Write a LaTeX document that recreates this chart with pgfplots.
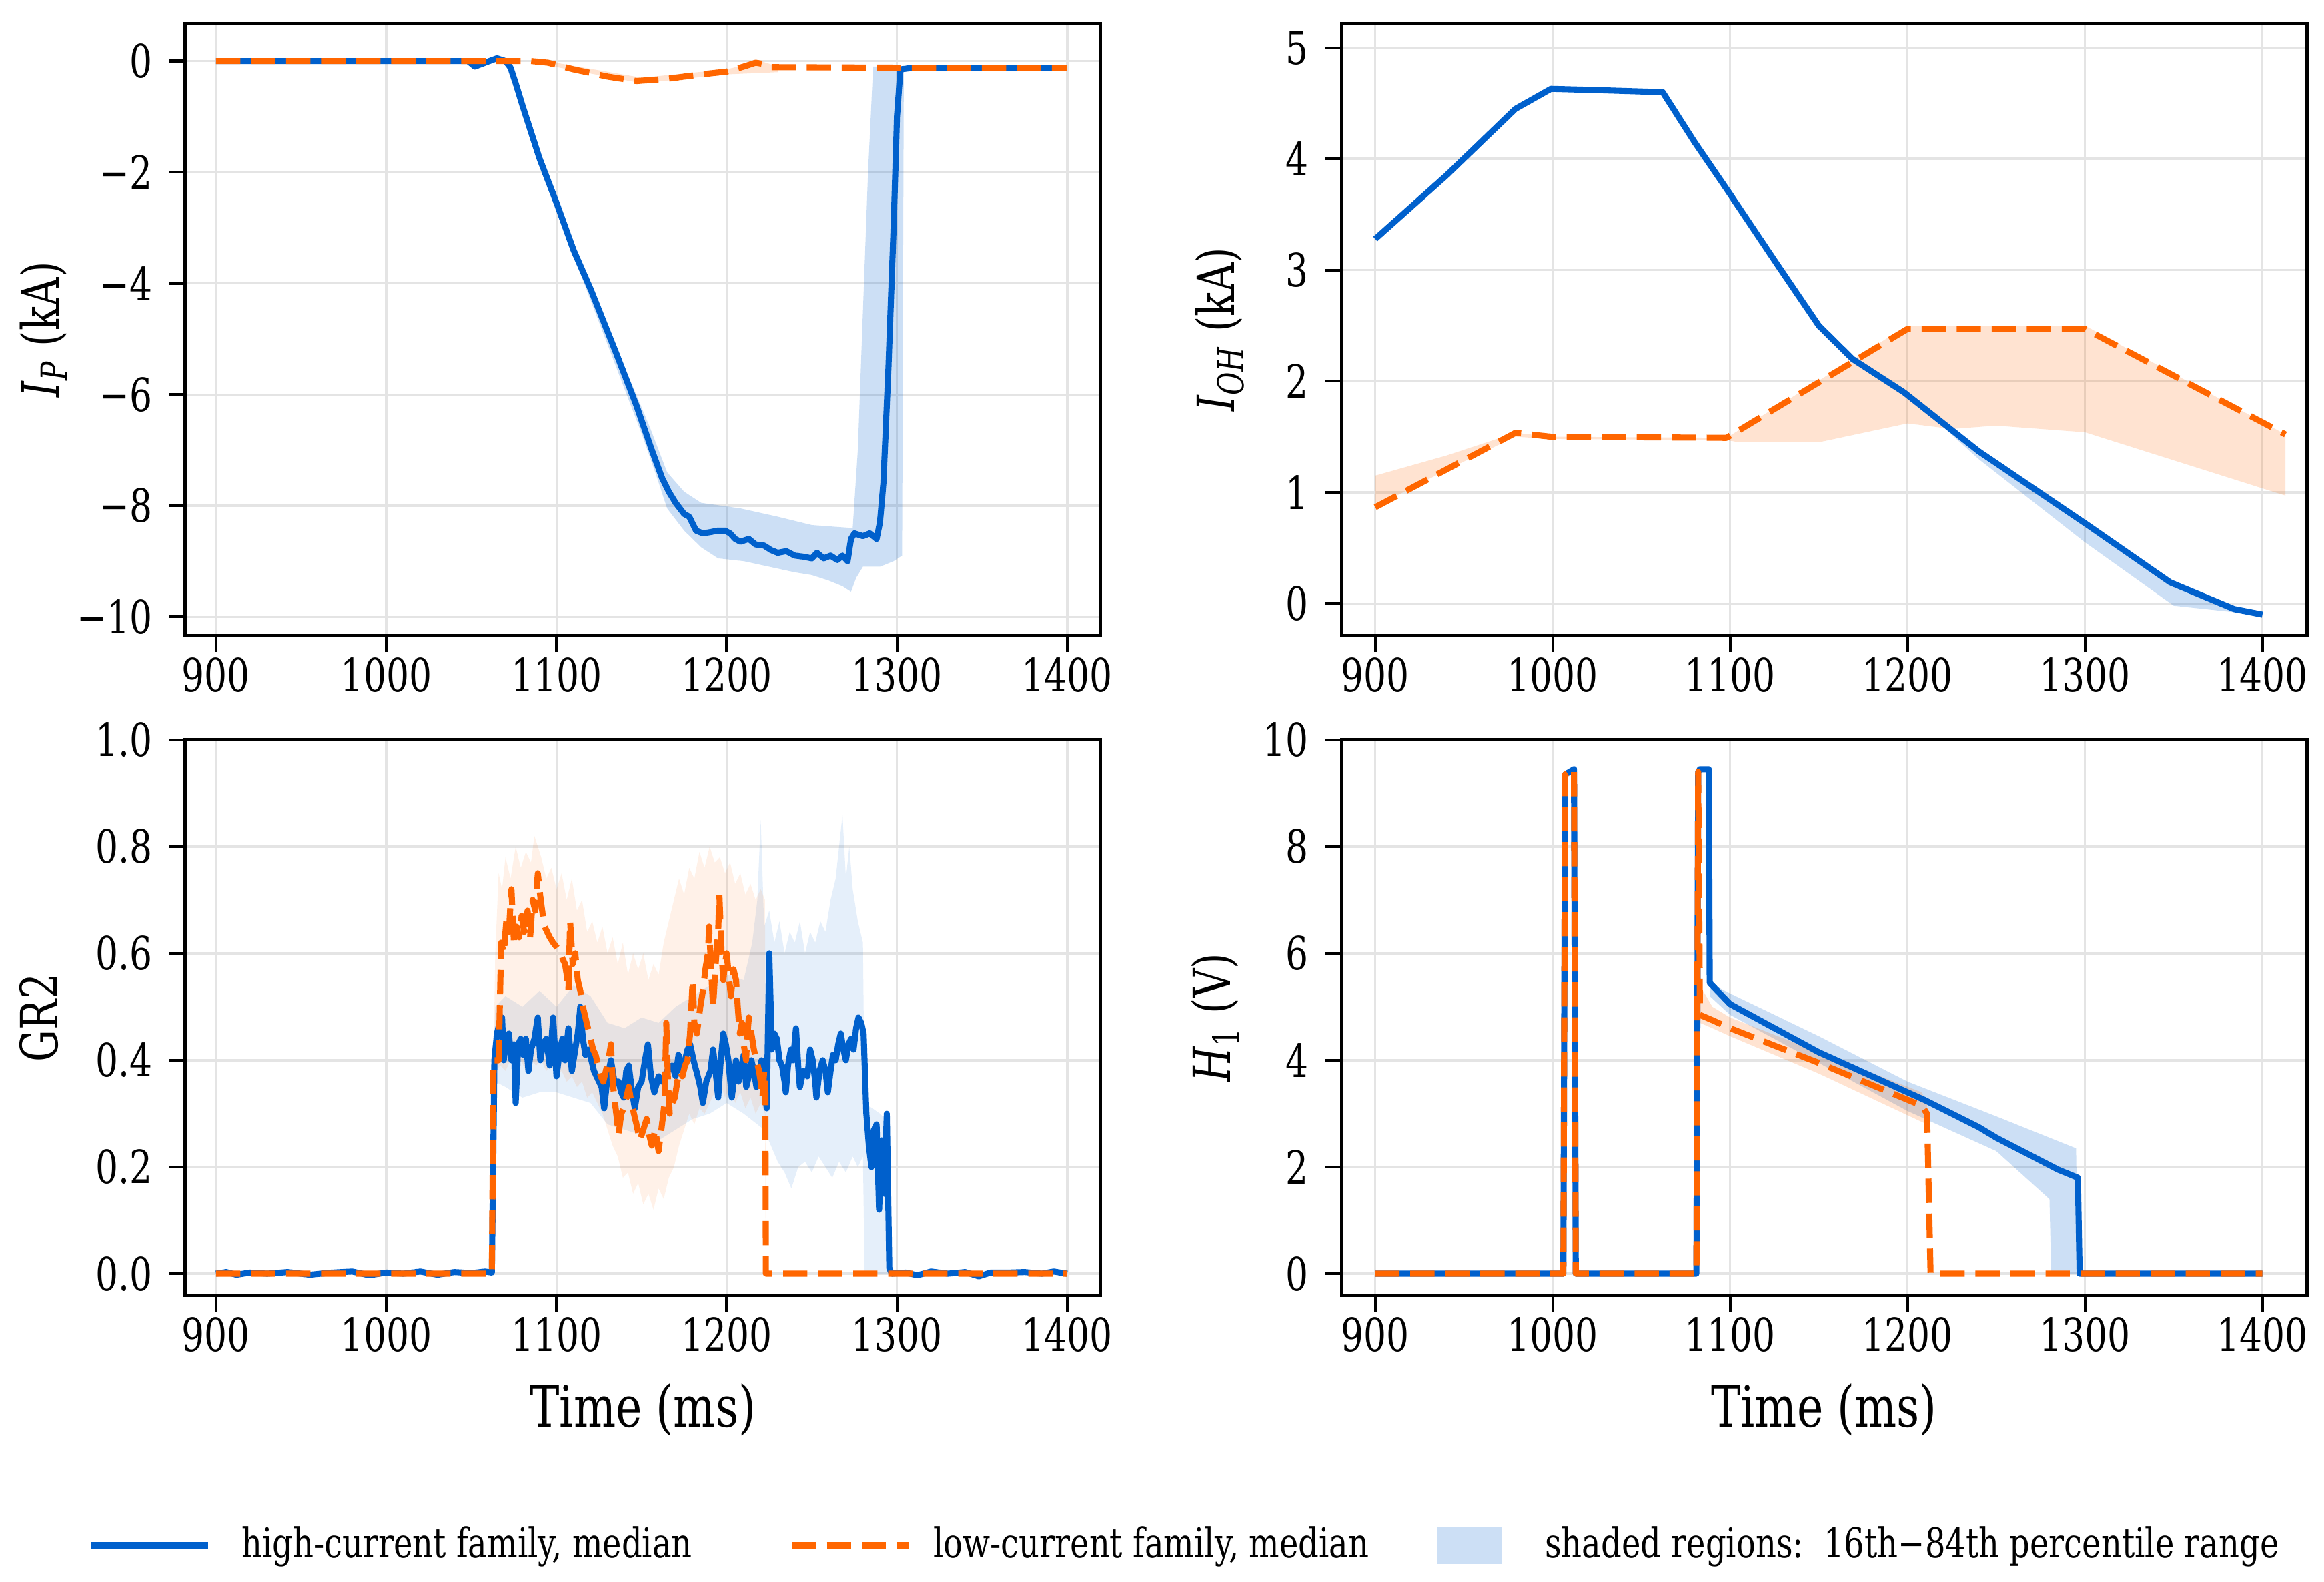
\documentclass[border=0pt]{standalone}
\usepackage{pgfplots}
\pgfplotsset{compat=1.18}
\usepackage{fontspec}
\setmainfont{DejaVu Serif}[FakeStretch=0.78]
\definecolor{blueC}{RGB}{0,96,204}
\definecolor{orangeC}{RGB}{255,102,0}
\definecolor{blueF}{RGB}{204,223,245}
\definecolor{gridC}{RGB}{228,228,228}
\pgfplotsset{
 myaxis/.style={
  scale only axis,
  axis line style={black, line width=0.7pt},
  grid=major, major grid style={gridC, line width=0.5pt},
  tick align=outside, major tick length=3.5pt, tick style={black, line width=0.6pt},
  xtick pos=bottom, ytick pos=left,
  xtick={900,1000,...,1400},
  /pgf/number format/assume math mode=true,
  /pgf/number format/1000 sep={},
  tick label style={font=\fontsize{9.8}{10}\selectfont},
  xticklabel style={yshift=2.3pt},
  ylabel style={font=\fontsize{11}{12}\selectfont},
  xlabel style={font=\fontsize{12.2}{13}\selectfont},
  anchor=south west,
 },
 bluel/.style={blueC, line width=1.3pt, line join=round},
 orangel/.style={orangeC, line width=1.3pt, line join=round, dash pattern=on 5.2pt off 2.3pt},
 bband/.style={fill=blueC, fill opacity=0.2, draw=none},
 oband/.style={fill=orangeC, fill opacity=0.18, draw=none},
 lineleg/.style={legend image code/.code={\draw[##1] (0pt,0pt) -- (25pt,0pt);}},
 patchleg/.style={legend image code/.code={\fill[##1] (0pt,-3.9pt) rectangle (13.7pt,3.9pt);}},
}
\begin{document}
\begin{tikzpicture}
\useasboundingbox (0,0) rectangle (497.7pt,-338.7pt);
% ---------------- Top left: I_P
\begin{axis}[myaxis, at={(39.7pt,-136.1pt)}, width=196pt, height=131.1pt,
 xmin=882, xmax=1419.6, ymin=-10.34, ymax=0.68,
 ytick={-10,-8,-6,-4,-2,0}, yticklabels={−10,−8,−6,−4,−2,0},
 ylabel={\textit{I}\textsubscript{\textit{P}} (kA)},
 ylabel style={at={(axis description cs:-0.155,0.5)}, anchor=center}]
\addplot[bband] coordinates {(1070,0.05) (1080,-0.8) (1100,-2.5) (1120,-4.0) (1140,-5.5) (1155,-6.6) (1165,-7.4) (1175,-7.75) (1185,-7.95) (1208,-8.05) (1230,-8.2) (1250,-8.35) (1272,-8.4) (1274,-8.4) (1277,-7) (1280,-4.5) (1283,-2) (1286,-0.1) (1304,-0.1)
 (1304,-0.15) (1303,-8.9) (1298,-9.0) (1290,-9.1) (1280,-9.1) (1276,-9.3) (1273,-9.55) (1268,-9.45) (1260,-9.35) (1250,-9.25) (1240,-9.2) (1225,-9.1) (1210,-9.0) (1195,-8.95) (1185,-8.75) (1175,-8.45) (1165,-8.05) (1158,-7.4) (1150,-6.7) (1140,-5.9) (1120,-4.3) (1100,-2.7) (1080,-0.9) (1070,-0.05)};
\addplot[oband] coordinates {(1090,0.02) (1150,-0.3) (1200,-0.15) (1220,0.0) (1230,-0.1) (1230,-0.2) (1200,-0.24) (1150,-0.4) (1090,-0.05)};
\addplot[bluel] coordinates {(900,0) (1000,0) (1048,0) (1052,-0.1) (1058,-0.03) (1065,0.05) (1070,0.0) (1073,-0.12) (1076,-0.4) (1080,-0.8) (1090,-1.75) (1100,-2.55) (1110,-3.4) (1120,-4.1) (1135,-5.25) (1147,-6.2) (1156,-7.0) (1162,-7.5) (1166,-7.75) (1170,-7.95) (1175,-8.15) (1178,-8.2) (1182,-8.45) (1186,-8.5) (1190,-8.48) (1195,-8.45) (1199,-8.45) (1202,-8.5) (1205,-8.6) (1208,-8.65) (1213,-8.6) (1217,-8.7) (1222,-8.72) (1226,-8.8) (1230,-8.85) (1235,-8.82) (1240,-8.9) (1245,-8.92) (1250,-8.95) (1253,-8.85) (1257,-8.95) (1261,-8.9) (1265,-8.98) (1268,-8.9) (1271,-9.0) (1273,-8.6) (1275,-8.5) (1280,-8.55) (1284,-8.5) (1288,-8.6) (1290,-8.3) (1292,-7.6) (1295,-5.5) (1298,-3.0) (1300,-1.0) (1302,-0.15) (1310,-0.12) (1400,-0.12)};
\addplot[orangel] coordinates {(900,0) (1000,0) (1085,0) (1095,-0.03) (1110,-0.15) (1130,-0.28) (1147,-0.36) (1165,-0.32) (1185,-0.24) (1200,-0.19) (1210,-0.1) (1217,-0.03) (1221,-0.05) (1226,-0.11) (1300,-0.12) (1400,-0.12)};
\end{axis}
% ---------------- Top right: I_OH
\begin{axis}[myaxis, at={(287.3pt,-136.1pt)}, width=206.7pt, height=131.1pt,
 xmin=881, xmax=1425, ymin=-0.29, ymax=5.22,
 ytick={0,1,2,3,4,5},
 ylabel={\textit{I}\textsubscript{\textit{OH}} (kA)},
 ylabel style={at={(axis description cs:-0.126,0.5)}, anchor=center}]
\addplot[oband] coordinates {(900,1.15) (940,1.33) (979,1.535) (999,1.5) (1098,1.49) (1200,2.5) (1300,2.5) (1413,1.52)
 (1413,0.97) (1300,1.54) (1250,1.6) (1225,1.57) (1200,1.62) (1150,1.45) (1105,1.45) (1098,1.47) (999,1.48) (979,1.5) (940,1.2) (900,0.87)};
\addplot[bband] coordinates {(1200,1.9) (1240,1.37) (1302,0.7) (1348,0.19) (1384,-0.05) (1400,-0.1) (1385,-0.08) (1350,-0.02) (1300,0.55) (1240,1.3) (1200,1.88)};
\addplot[bluel] coordinates {(900,3.28) (940,3.85) (979,4.45) (999,4.63) (1022,4.62) (1062,4.6) (1080,4.15) (1098,3.73) (1127,3.04) (1150,2.5) (1169,2.2) (1198,1.9) (1240,1.37) (1302,0.7) (1348,0.19) (1384,-0.05) (1400,-0.1)};
\addplot[orangel] coordinates {(900,0.865) (979,1.535) (999,1.5) (1098,1.49) (1200,2.47) (1300,2.47) (1413,1.52)};
\end{axis}
% ---------------- Bottom left: GR2
\begin{axis}[myaxis, at={(39.7pt,-277.4pt)}, width=196pt, height=119pt,
 xmin=882, xmax=1419.6, ymin=-0.041, ymax=1.0,
 ytick={0,0.2,0.4,0.6,0.8,1.0}, yticklabels={0.0,0.2,0.4,0.6,0.8,1.0},
 ylabel={GR2},
 ylabel style={at={(axis description cs:-0.16,0.5)}, anchor=center},
 xlabel={Time (ms)},
 xlabel style={at={(axis description cs:0.5,-0.205)}, anchor=center},
 legend columns=3,
 legend style={at={(axis description cs:1.0955,-0.4496)}, anchor=center, draw=none, fill=none,
   font=\fontsize{8.8}{10}\selectfont,
   /tikz/column 1/.style={column sep=4.4pt},
   /tikz/column 2/.style={column sep=18.5pt},
   /tikz/column 3/.style={column sep=2.5pt},
   /tikz/column 4/.style={column sep=12.7pt},
   /tikz/column 5/.style={column sep=7.3pt}}]
\addplot[bband, fill opacity=0.1, forget plot] coordinates {(1063,0.4) (1064,0.5) (1070,0.52) (1080,0.50) (1090,0.53) (1100,0.50) (1110,0.54) (1120,0.52) (1130,0.47) (1140,0.46) (1150,0.48) (1160,0.47) (1170,0.50) (1180,0.52) (1190,0.54) (1200,0.56) (1210,0.55) (1215,0.62) (1218,0.70) (1220,0.85) (1222,0.65) (1225,0.68) (1228,0.62) (1231,0.66) (1234,0.60) (1237,0.64) (1240,0.62) (1243,0.66) (1246,0.60) (1249,0.64) (1252,0.62) (1255,0.66) (1258,0.64) (1261,0.70) (1264,0.74) (1266,0.80) (1268,0.86) (1270,0.74) (1272,0.80) (1274,0.72) (1277,0.66) (1280,0.62) (1281,0.32) (1290,0.3) (1296,0.28) (1297,0)
 (1297,0) (1281,0) (1280,0.22) (1277,0.20) (1274,0.22) (1270,0.19) (1266,0.21) (1262,0.18) (1258,0.20) (1254,0.22) (1250,0.19) (1246,0.21) (1242,0.20) (1238,0.16) (1234,0.19) (1230,0.21) (1226,0.24) (1222,0.27) (1218,0.28) (1210,0.30) (1200,0.32) (1190,0.30) (1180,0.29) (1170,0.27) (1160,0.25) (1150,0.26) (1140,0.27) (1130,0.28) (1120,0.32) (1110,0.33) (1100,0.34) (1090,0.34) (1080,0.33) (1070,0.35) (1064,0.36) (1063,0)};
\addplot[oband, fill opacity=0.09, forget plot] coordinates {(1063,0.40) (1064,0.6) (1066,0.75) (1068,0.72) (1070,0.78) (1073,0.74) (1076,0.8) (1079,0.76) (1082,0.79) (1085,0.77) (1087,0.82) (1089,0.8) (1091,0.78) (1094,0.74) (1097,0.76) (1100,0.72) (1103,0.75) (1106,0.70) (1109,0.74) (1112,0.68) (1115,0.70) (1118,0.64) (1121,0.66) (1124,0.62) (1127,0.65) (1130,0.60) (1133,0.63) (1136,0.58) (1139,0.62) (1142,0.56) (1145,0.60) (1148,0.57) (1151,0.60) (1154,0.55) (1157,0.58) (1160,0.56) (1163,0.62) (1166,0.66) (1169,0.70) (1172,0.74) (1175,0.71) (1178,0.76) (1181,0.74) (1184,0.79) (1187,0.76) (1190,0.80) (1193,0.77) (1196,0.78) (1199,0.75) (1202,0.77) (1205,0.73) (1208,0.75) (1211,0.71) (1214,0.73) (1217,0.70) (1220,0.72) (1222.5,0.70) (1223,0.0)
 (1223,0.0) (1222.5,0.30) (1220,0.32) (1217,0.30) (1214,0.33) (1211,0.31) (1208,0.34) (1205,0.32) (1202,0.35) (1199,0.33) (1196,0.36) (1193,0.34) (1190,0.32) (1187,0.30) (1184,0.31) (1181,0.28) (1178,0.30) (1175,0.27) (1172,0.24) (1169,0.20) (1166,0.18) (1163,0.14) (1160,0.16) (1157,0.12) (1154,0.15) (1151,0.13) (1148,0.17) (1145,0.15) (1142,0.19) (1139,0.18) (1136,0.22) (1133,0.24) (1130,0.27) (1127,0.30) (1124,0.32) (1121,0.34) (1118,0.33) (1115,0.36) (1112,0.35) (1109,0.37) (1106,0.36) (1103,0.38) (1100,0.37) (1097,0.39) (1094,0.38) (1091,0.40) (1088,0.39) (1085,0.40) (1082,0.38) (1079,0.40) (1076,0.39) (1073,0.40) (1070,0.38) (1067,0.39) (1064,0.38) (1063,0)};
\addplot[bluel, forget plot] coordinates {(900,0) (906,0.003) (912,-0.002) (920,0.002) (930,0) (942,0.003) (955,-0.002) (968,0.002) (980,0.004) (990,-0.003) (1000,0.002) (1010,0) (1020,0.004) (1030,-0.002) (1040,0.003) (1050,0.001) (1058,0.004) (1062,0.002) (1063.5,0.40) (1065,0.45) (1066.5,0.47) (1068,0.48) (1069,0.40) (1070.5,0.44) (1072,0.45) (1073.5,0.40) (1075,0.43) (1076,0.32) (1077.5,0.43) (1079,0.44) (1080.5,0.41) (1082,0.44) (1083.5,0.38) (1085,0.42) (1087,0.44) (1089,0.48) (1090.5,0.40) (1092,0.43) (1094,0.44) (1096,0.39) (1098,0.48) (1100,0.37) (1102,0.42) (1103.5,0.44) (1105,0.40) (1107,0.46) (1109,0.38) (1111,0.42) (1112.5,0.45) (1114,0.50) (1115.5,0.44) (1117,0.41) (1119,0.42) (1120.5,0.40) (1122,0.38) (1123.5,0.37) (1125,0.36) (1126.5,0.35) (1128,0.31) (1130,0.37) (1132,0.40) (1134,0.36) (1136.5,0.36) (1138,0.34) (1139.5,0.33) (1141,0.38) (1142.5,0.39) (1144,0.35) (1146,0.31) (1148,0.35) (1150,0.36) (1152,0.40) (1153.7,0.43) (1155.5,0.37) (1157.5,0.34) (1160,0.37) (1162,0.36) (1165,0.38) (1168,0.39) (1170,0.37) (1171.7,0.41) (1173.5,0.38) (1175.5,0.40) (1177,0.42) (1178.5,0.43) (1180.5,0.40) (1183,0.37) (1184.5,0.35) (1186,0.32) (1188,0.36) (1190.5,0.38) (1192,0.42) (1193.5,0.38) (1195,0.33) (1196.5,0.40) (1198,0.45) (1199.5,0.43) (1201,0.40) (1203,0.33) (1205.5,0.40) (1207,0.36) (1208.5,0.38) (1210,0.41) (1211.5,0.35) (1213,0.37) (1214.5,0.40) (1216,0.38) (1217.5,0.35) (1219,0.37) (1220.5,0.40) (1222,0.36) (1223.5,0.31) (1225,0.60) (1226.5,0.42) (1228,0.45) (1229.5,0.44) (1231,0.40) (1232.5,0.39) (1234,0.36) (1234.7,0.34) (1236,0.39) (1237.7,0.42) (1239,0.40) (1240.7,0.46) (1242,0.39) (1243,0.35) (1245,0.38) (1247.4,0.37) (1249,0.42) (1250.5,0.40) (1252,0.36) (1252.7,0.33) (1254.5,0.38) (1256.4,0.40) (1258,0.38) (1259.4,0.34) (1261,0.38) (1262.4,0.41) (1264,0.40) (1265.5,0.43) (1267,0.45) (1268.5,0.42) (1270,0.40) (1271.5,0.43) (1273,0.44) (1274.5,0.42) (1276,0.46) (1277.4,0.48) (1279,0.47) (1280.4,0.45) (1282,0.30) (1283.5,0.24) (1285,0.20) (1286.5,0.27) (1288,0.28) (1289.5,0.12) (1291,0.25) (1292.5,0.15) (1294,0.30) (1295.5,0.01) (1297,0) (1305,0.002) (1312,-0.003) (1320,0.004) (1330,0) (1340,0.003) (1348,-0.005) (1355,0.002) (1365,0.002) (1375,0.003) (1385,0) (1392,0.004) (1400,0)};
\addplot[orangel, forget plot] coordinates {(900,0) (1000,0) (1062,0) (1063,0.40) (1066,0.40) (1067.5,0.62) (1069,0.60) (1070.5,0.66) (1072,0.64) (1073.5,0.72) (1075,0.62) (1076.5,0.65) (1078,0.63) (1079.5,0.67) (1081,0.64) (1083,0.68) (1084.5,0.63) (1086,0.70) (1087.5,0.68) (1089,0.75) (1090.7,0.70) (1092,0.67) (1093,0.65) (1094.5,0.64) (1096,0.63) (1098,0.62) (1100.5,0.61) (1102,0.60) (1103.5,0.59) (1105,0.58) (1106,0.56) (1107,0.53) (1108,0.66) (1109.5,0.58) (1111,0.60) (1112.5,0.55) (1114,0.53) (1115.5,0.50) (1117,0.48) (1118.5,0.46) (1120,0.44) (1121.5,0.42) (1123,0.41) (1124.5,0.39) (1126,0.37) (1127.5,0.36) (1129,0.38) (1130.5,0.40) (1132,0.43) (1133,0.36) (1134,0.33) (1135.5,0.29) (1136.5,0.26) (1138,0.30) (1139.5,0.31) (1141,0.33) (1142.5,0.35) (1144,0.32) (1145.5,0.30) (1147,0.28) (1149,0.25) (1151,0.27) (1153,0.29) (1154.5,0.26) (1156,0.24) (1158,0.27) (1160,0.23) (1162,0.28) (1163.5,0.32) (1164.5,0.47) (1165.5,0.36) (1166.5,0.30) (1168,0.32) (1169.5,0.33) (1171,0.36) (1172.5,0.38) (1174,0.37) (1175.5,0.39) (1177,0.40) (1178.5,0.45) (1180,0.55) (1181,0.47) (1182.5,0.45) (1184.5,0.50) (1186,0.53) (1187.5,0.57) (1189,0.60) (1189.7,0.65) (1191,0.56) (1192,0.50) (1193.5,0.58) (1195,0.64) (1195.7,0.71) (1197,0.60) (1198,0.55) (1199,0.58) (1200,0.60) (1201.5,0.55) (1202.5,0.52) (1204,0.57) (1205.5,0.55) (1206.5,0.50) (1207.7,0.45) (1209,0.47) (1210,0.43) (1211.4,0.40) (1212,0.44) (1213,0.48) (1214.5,0.45) (1216,0.42) (1217.5,0.40) (1219,0.38) (1220,0.36) (1221,0.33) (1222,0.38) (1222.7,0.35) (1223,0.0) (1230,0) (1300,0) (1400,0)};
\addlegendimage{blueC, line width=1.6pt, lineleg}
\addlegendentry{high-current family, median}
\addlegendimage{orangeC, line width=1.6pt, dash pattern=on 5.2pt off 2.3pt, lineleg}
\addlegendentry{low-current family, median}
\addlegendimage{fill=blueF, draw=none, patchleg}
\addlegendentry{shaded regions:\ \ 16th−84th percentile range}
\end{axis}
% ---------------- Bottom right: H1
\begin{axis}[myaxis, at={(287.3pt,-277.4pt)}, width=206.7pt, height=119pt,
 xmin=881, xmax=1425, ymin=-0.41, ymax=10,
 ytick={0,2,4,6,8,10},
 ylabel={\textit{H}\textsubscript{1} (V)},
 ylabel style={at={(axis description cs:-0.131,0.5)}, anchor=center},
 xlabel={Time (ms)},
 xlabel style={at={(axis description cs:0.5,-0.205)}, anchor=center}]
\addplot[bband] coordinates {(1088.5,5.45) (1100,5.25) (1150,4.45) (1200,3.6) (1250,2.95) (1295,2.35) (1296,0) (1281,0) (1280,1.4) (1250,2.3) (1200,3.05) (1150,3.95) (1100,4.85) (1088.5,5.2)};
\addplot[oband] coordinates {(1083,5.4) (1090,5.0) (1100,4.8) (1150,4.15) (1208,3.4) (1211,3.2) (1211,2.8) (1150,3.75) (1100,4.45) (1090,4.6) (1083,4.7)};
\addplot[bluel] coordinates {(900,0) (1006,0) (1007,9.35) (1012,9.45) (1013,0) (1081,0) (1082,9.4) (1083,9.45) (1088,9.45) (1088.5,5.45) (1100,5.05) (1150,4.15) (1210,3.25) (1240,2.75) (1250,2.55) (1285,1.95) (1296,1.8) (1297,0) (1400,0)};
\addplot[orangel] coordinates {(900,0) (1006,0) (1007,9.35) (1012,9.45) (1013,0) (1081,0) (1082,9.4) (1083,4.85) (1090,4.75) (1100,4.6) (1150,3.95) (1208,3.15) (1211,3.0) (1213,0) (1400,0)};
\end{axis}
\end{tikzpicture}
\end{document}
